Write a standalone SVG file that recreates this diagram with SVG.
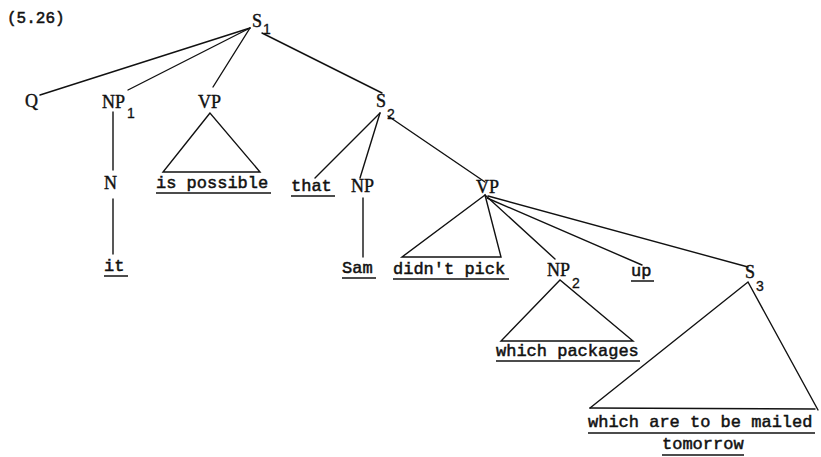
<svg xmlns="http://www.w3.org/2000/svg" width="821" height="457" viewBox="0 0 821 457">
<style>
.lbl{font-family:"Liberation Serif","Times New Roman",serif;font-size:18px;fill:#111;stroke:#111;stroke-width:0.4}
.sub{font-family:"Liberation Sans",Arial,sans-serif;font-size:14px;fill:#111;stroke:#111;stroke-width:0.3}
.w{font-family:"Liberation Mono","Courier New",monospace;font-size:17px;fill:#111;stroke:#111;stroke-width:0.5}
.ttl{font-family:"Liberation Mono","Courier New",monospace;font-size:16px;fill:#111;stroke:#111;stroke-width:0.5}
.e{stroke:#111;stroke-width:1.4;fill:none;stroke-linecap:round}
.u{stroke:#111;stroke-width:1.5}
</style>
<rect width="821" height="457" fill="#fff"/>
<text class="ttl" x="7" y="23">(5.26)</text>
<g id="connectors">
<line class="e" x1="250" y1="28" x2="40" y2="95"/>
<line class="e" x1="250" y1="28" x2="128" y2="90"/>
<line class="e" x1="250" y1="28" x2="213" y2="87"/>
<line class="e" x1="262" y1="33" x2="382" y2="93"/>
<line class="e" x1="113" y1="112" x2="113" y2="170"/>
<line class="e" x1="113" y1="199" x2="113" y2="254"/>
<polygon class="e" points="210,113 163,172 260,172"/>
<line class="e" x1="380" y1="113" x2="315" y2="178"/>
<line class="e" x1="380" y1="113" x2="360" y2="178"/>
<line class="e" x1="388" y1="116" x2="485" y2="182"/>
<line class="e" x1="363" y1="198" x2="363" y2="257"/>
<polygon class="e" points="485,195 402,257 501,257"/>
<line class="e" x1="485" y1="195" x2="555" y2="259"/>
<line class="e" x1="487" y1="198" x2="642" y2="265"/>
<line class="e" x1="488" y1="196" x2="748" y2="267"/>
<polygon class="e" points="560,280 501,341 633,341"/>
<polyline class="e" points="590,408 748,282 818,410"/>
<line class="e" x1="590" y1="408" x2="815" y2="409"/>
</g>
<g id="S1"><text class="lbl" x="252" y="27">S</text><text class="sub" x="263" y="34">1</text></g>
<g id="Q"><text class="lbl" x="25" y="107">Q</text></g>
<g id="NP1"><text class="lbl" x="102" y="108">NP</text><text class="sub" x="127" y="118">1</text></g>
<g id="VP1"><text class="lbl" x="198" y="108">VP</text></g>
<g id="N"><text class="lbl" x="104" y="189">N</text></g>
<g id="it"><text class="w" x="104" y="271">it</text><line class="u" x1="104" y1="276" x2="128" y2="276"/></g>
<g id="is_possible"><text class="w" x="156" y="188">is possible</text><line class="u" x1="156" y1="193" x2="271" y2="193"/></g>
<g id="S2"><text class="lbl" x="376" y="107">S</text><text class="sub" x="387" y="119">2</text></g>
<g id="that"><text class="w" x="291" y="191">that</text><line class="u" x1="291" y1="196" x2="335" y2="196"/></g>
<g id="NP"><text class="lbl" x="351" y="192">NP</text></g>
<g id="Sam"><text class="w" x="342" y="273">Sam</text><line class="u" x1="342" y1="278" x2="376" y2="278"/></g>
<g id="VP2"><text class="lbl" x="476" y="193">VP</text></g>
<g id="didnt_pick"><text class="w" x="393" y="274">didn't pick</text><line class="u" x1="393" y1="279" x2="509" y2="279"/></g>
<g id="NP2"><text class="lbl" x="547" y="276">NP</text><text class="sub" x="572" y="288">2</text></g>
<g id="up"><text class="w" x="631" y="276">up</text><line class="u" x1="631" y1="281" x2="654" y2="281"/></g>
<g id="S3"><text class="lbl" x="745" y="278">S</text><text class="sub" x="756" y="291">3</text></g>
<g id="which_packages"><text class="w" x="496" y="356">which packages</text><line class="u" x1="496" y1="361" x2="640" y2="361"/></g>
<g id="which_are"><text class="w" x="588" y="427">which are to be mailed</text><line class="u" x1="588" y1="433" x2="815" y2="433"/><text class="w" x="662" y="449">tomorrow</text><line class="u" x1="662" y1="455" x2="744" y2="455"/></g>
</svg>
